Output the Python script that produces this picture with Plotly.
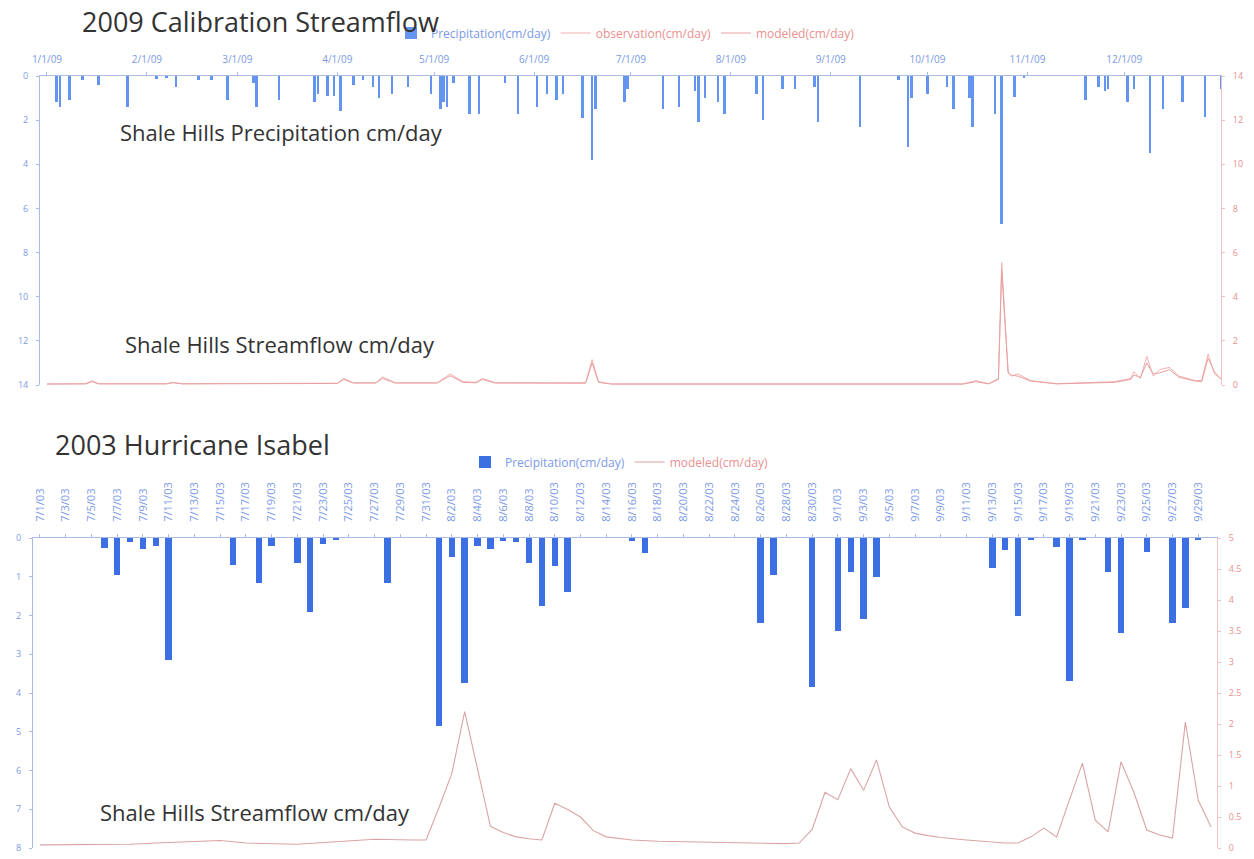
import plotly.graph_objects as go

W, H = 1254, 859

# ---------------- 2009 calibration data ----------------
precip09_dates = ["2009-01-04","2009-01-05","2009-01-08","2009-01-12","2009-01-17","2009-01-26",
    "2009-02-04","2009-02-07","2009-02-10","2009-02-17","2009-02-21","2009-02-26",
    "2009-03-06","2009-03-07","2009-03-14","2009-03-25","2009-03-26","2009-03-29","2009-03-31",
    "2009-04-02","2009-04-06","2009-04-09","2009-04-12","2009-04-14","2009-04-18","2009-04-23","2009-04-30",
    "2009-05-03","2009-05-04","2009-05-05","2009-05-07","2009-05-12","2009-05-15","2009-05-23","2009-05-27",
    "2009-06-02","2009-06-05","2009-06-08","2009-06-10","2009-06-16","2009-06-19","2009-06-20","2009-06-29","2009-06-30",
    "2009-07-11","2009-07-16","2009-07-21","2009-07-22","2009-07-24","2009-07-28","2009-07-30",
    "2009-08-09","2009-08-11","2009-08-17","2009-08-21","2009-08-27","2009-08-28",
    "2009-09-10","2009-09-22","2009-09-25","2009-09-26",
    "2009-10-01","2009-10-07","2009-10-09","2009-10-14","2009-10-15","2009-10-22","2009-10-24","2009-10-28","2009-10-31",
    "2009-11-19","2009-11-23","2009-11-25","2009-11-26",
    "2009-12-02","2009-12-04","2009-12-09","2009-12-13","2009-12-19","2009-12-26","2009-12-31"]
precip09_values = [1.2,1.4,1.1,0.2,0.4,1.4,
    0.15,0.1,0.5,0.2,0.2,1.1,
    0.3,1.4,1.1,1.2,0.8,0.9,0.9,
    1.6,0.4,0.2,0.5,1.0,0.8,0.5,0.8,
    1.5,1.2,1.4,0.3,1.7,1.7,0.3,1.7,
    1.4,0.8,1.1,0.8,1.9,3.8,1.5,1.2,0.6,
    1.5,1.4,0.7,2.1,1.0,1.2,1.7,
    0.8,2.0,0.6,0.6,0.5,2.1,
    2.3,0.2,3.2,1.0,
    0.8,0.5,1.5,1.0,2.3,1.7,6.7,0.95,0.1,
    1.1,0.5,0.7,0.6,
    1.2,0.6,3.5,1.5,1.2,1.85,0.6]

obs09_dates = ["2009-01-01","2009-01-13","2009-01-15","2009-01-17","2009-02-07","2009-02-09","2009-02-12",
    "2009-04-01","2009-04-03","2009-04-06","2009-04-13","2009-04-15","2009-04-19",
    "2009-05-02","2009-05-06","2009-05-10","2009-05-14","2009-05-16","2009-05-20",
    "2009-06-17","2009-06-19","2009-06-21","2009-06-25","2009-10-12","2009-10-16","2009-10-20",
    "2009-10-23","2009-10-24","2009-10-26","2009-10-27","2009-10-29","2009-11-02","2009-11-10",
    "2009-11-28","2009-12-03","2009-12-04","2009-12-06","2009-12-08","2009-12-10","2009-12-12","2009-12-15",
    "2009-12-18","2009-12-23","2009-12-25","2009-12-27","2009-12-29","2009-12-31"]
obs09_values = [0.05,0.06,0.2,0.06,0.06,0.12,0.06,
    0.08,0.3,0.1,0.1,0.37,0.1,
    0.1,0.5,0.15,0.12,0.3,0.1,
    0.1,1.15,0.15,0.05,0.05,0.2,0.06,
    0.3,5.55,0.6,0.4,0.5,0.2,0.06,
    0.15,0.3,0.6,0.3,1.3,0.4,0.7,0.8,
    0.4,0.2,0.2,1.4,0.5,0.3]
mod09_values = [0.04,0.05,0.15,0.05,0.05,0.1,0.05,
    0.07,0.25,0.09,0.09,0.3,0.09,
    0.09,0.42,0.12,0.1,0.25,0.09,
    0.08,1.0,0.12,0.04,0.04,0.15,0.05,
    0.25,5.2,0.55,0.45,0.4,0.18,0.05,
    0.12,0.25,0.45,0.35,1.0,0.5,0.55,0.7,
    0.35,0.18,0.15,1.2,0.6,0.25]

month_ticks09 = ["2009-%02d-01" % m for m in range(1, 13)]

# ---------------- 2003 Hurricane Isabel data ----------------
precip03_dates = ["2003-07-06","2003-07-07","2003-07-08","2003-07-09","2003-07-10","2003-07-11",
    "2003-07-16","2003-07-18","2003-07-19","2003-07-21","2003-07-22","2003-07-23","2003-07-24","2003-07-28",
    "2003-08-01","2003-08-02","2003-08-03","2003-08-04","2003-08-05","2003-08-06","2003-08-07",
    "2003-08-08","2003-08-09","2003-08-10","2003-08-11","2003-08-16","2003-08-17",
    "2003-08-26","2003-08-27","2003-08-30","2003-09-01","2003-09-02","2003-09-03","2003-09-04",
    "2003-09-13","2003-09-14","2003-09-15","2003-09-16","2003-09-18","2003-09-19","2003-09-20",
    "2003-09-22","2003-09-23","2003-09-25","2003-09-27","2003-09-28","2003-09-29"]
precip03_values = [0.25,0.95,0.1,0.28,0.2,3.15,
    0.7,1.15,0.2,0.65,1.9,0.15,0.05,1.15,
    4.85,0.5,3.75,0.2,0.28,0.07,0.1,
    0.65,1.75,0.72,1.4,0.07,0.38,
    2.2,0.95,3.85,2.4,0.87,2.1,1.0,
    0.77,0.3,2.0,0.05,0.22,3.7,0.05,
    0.88,2.45,0.35,2.2,1.8,0.05]

mod03_dates = ["2003-07-01","2003-07-04","2003-07-07","2003-07-08","2003-07-10","2003-07-13","2003-07-15",
    "2003-07-17","2003-07-21","2003-07-24","2003-07-27","2003-07-30","2003-07-31",
    "2003-08-01","2003-08-02","2003-08-03","2003-08-04","2003-08-05","2003-08-06","2003-08-07",
    "2003-08-08","2003-08-09","2003-08-10","2003-08-11","2003-08-12","2003-08-13","2003-08-14",
    "2003-08-15","2003-08-16","2003-08-18","2003-08-20","2003-08-22","2003-08-24","2003-08-26",
    "2003-08-28","2003-08-29","2003-08-30","2003-08-31","2003-09-01","2003-09-02","2003-09-03",
    "2003-09-04","2003-09-05","2003-09-06","2003-09-07","2003-09-08","2003-09-09","2003-09-11",
    "2003-09-13","2003-09-14","2003-09-15","2003-09-16","2003-09-17","2003-09-18","2003-09-19",
    "2003-09-20","2003-09-21","2003-09-22","2003-09-23","2003-09-24","2003-09-25","2003-09-26",
    "2003-09-27","2003-09-28","2003-09-29","2003-09-30"]
mod03_values = [0.05,0.05,0.05,0.06,0.08,0.1,0.12,
    0.08,0.06,0.1,0.14,0.13,0.13,
    0.65,1.2,2.2,1.25,0.35,0.25,0.18,
    0.15,0.13,0.72,0.62,0.5,0.28,0.18,
    0.15,0.13,0.11,0.1,0.09,0.08,0.07,
    0.07,0.08,0.3,0.9,0.78,1.28,0.93,
    1.42,0.66,0.34,0.24,0.2,0.17,0.13,
    0.1,0.08,0.08,0.18,0.32,0.18,0.78,
    1.37,0.45,0.26,1.39,0.9,0.29,0.21,
    0.16,2.03,0.77,0.34]

day_ticks03 = ["2003-07-%02d" % d for d in range(1, 32, 2)] + \
              ["2003-08-%02d" % d for d in range(2, 32, 2)] + \
              ["2003-09-%02d" % d for d in range(1, 30, 2)]

# ---------------- colours ----------------
BLUE_BAR_TOP = "#6394f0"
BLUE_BAR_BOT = "#3b6fe2"
BLUE_TXT = "#7b9ae6"
PINK_OBS = "#f3b0b0"
PINK_MOD = "#e9a0a0"
PINK_TXT = "#e99090"
DAY_MS = 86400000
FONT = "Open Sans"

fig = go.Figure()

fig.add_trace(go.Bar(x=precip09_dates, y=precip09_values, width=0.75 * DAY_MS,
                     marker=dict(color=BLUE_BAR_TOP, line=dict(width=0)),
                     name="<span style='color:%s'>Precipitation(cm/day)</span>" % BLUE_TXT,
                     xaxis="x", yaxis="y", legend="legend"))
fig.add_trace(go.Scatter(x=obs09_dates, y=obs09_values, mode="lines",
                         line=dict(color=PINK_OBS, width=1),
                         name="<span style='color:%s'>observation(cm/day)</span>" % PINK_TXT,
                         xaxis="x", yaxis="y2", legend="legend"))
fig.add_trace(go.Scatter(x=obs09_dates, y=mod09_values, mode="lines",
                         line=dict(color=PINK_MOD, width=1),
                         name="<span style='color:%s'>modeled(cm/day)</span>" % PINK_TXT,
                         xaxis="x", yaxis="y2", legend="legend"))

fig.add_trace(go.Bar(x=precip03_dates, y=precip03_values, width=0.5 * DAY_MS,
                     marker=dict(color=BLUE_BAR_BOT, line=dict(width=0)),
                     name="<span style='color:%s'>Precipitation(cm/day)</span>" % BLUE_TXT,
                     xaxis="x2", yaxis="y3", legend="legend2"))
fig.add_trace(go.Scatter(x=mod03_dates, y=mod03_values, mode="lines",
                         line=dict(color="#dba4a4", width=1.1),
                         name="<span style='color:%s'>modeled(cm/day)</span>" % PINK_TXT,
                         xaxis="x2", yaxis="y4", legend="legend2"))

def px(x):
    return x / W

def py(y):
    return 1 - y / H

tickfont_b = dict(size=9, color=BLUE_TXT, family=FONT)
tickfont_p = dict(size=9, color=PINK_TXT, family=FONT)

fig.update_layout(
    width=W, height=H, autosize=False,
    margin=dict(l=0, r=0, t=0, b=0),
    paper_bgcolor="white", plot_bgcolor="white",
    showlegend=True, bargap=0,
    font=dict(family=FONT),
    xaxis=dict(domain=[px(40), px(1221)], anchor="y", side="top", type="date",
               range=["2008-12-29 20:00", "2009-12-31 00:00"],
               tickvals=month_ticks09, tickformat="%-m/%-d/%y",
               tickfont=dict(size=10, color=BLUE_TXT, family=FONT), ticklabelstandoff=5,
               showgrid=False, zeroline=False, showline=True, linecolor="#a9bbe8",
               ticks="outside", ticklen=3, tickcolor="#a9bbe8", automargin=False),
    yaxis=dict(domain=[py(385), py(76)], anchor="x", range=[14, 0], dtick=2,
               tickfont=tickfont_b, showgrid=False, zeroline=False, showline=True,
               linecolor="#a9bbe8", ticks="outside", ticklen=3, tickcolor="#a9bbe8",
               ticklabelstandoff=6, automargin=False),
    yaxis2=dict(overlaying="y", anchor="x", side="right", range=[0, 14], dtick=2,
                tickfont=tickfont_p, showgrid=False, zeroline=False, showline=True,
                linecolor="#f1c0c0", ticks="outside", ticklen=3, tickcolor="#f1c0c0",
                ticklabelstandoff=6, automargin=False),
    xaxis2=dict(domain=[px(33), px(1217)], anchor="y3", side="top", type="date",
                range=["2003-06-30 11:00", "2003-09-30 11:00"],
                tickvals=day_ticks03, tickformat="%-m/%-d/%y", tickangle=-90,
                tickfont=dict(size=11, color=BLUE_TXT, family=FONT), ticklabelstandoff=10,
                showgrid=False, zeroline=False, showline=True, linecolor="#a9bbe8",
                ticks="outside", ticklen=3, tickcolor="#a9bbe8", automargin=False),
    yaxis3=dict(domain=[py(848), py(538)], anchor="x2", range=[8, 0], dtick=1,
                tickfont=tickfont_b, showgrid=False, zeroline=False, showline=True,
                linecolor="#a9bbe8", ticks="outside", ticklen=3, tickcolor="#a9bbe8",
                ticklabelstandoff=6, automargin=False),
    yaxis4=dict(overlaying="y3", anchor="x2", side="right", range=[0, 5], dtick=0.5,
                tickfont=tickfont_p, showgrid=False, zeroline=False, showline=True,
                linecolor="#f1c0c0", ticks="outside", ticklen=3, tickcolor="#f1c0c0",
                ticklabelstandoff=6, automargin=False),
    legend=dict(orientation="h", x=px(391), y=py(33), xanchor="left", yanchor="middle",
                font=dict(size=12, family=FONT), bgcolor="rgba(0,0,0,0)",
                itemwidth=30, tracegroupgap=0),
    legend2=dict(orientation="h", x=px(465), y=py(462), xanchor="left", yanchor="middle",
                 font=dict(size=12, family=FONT), bgcolor="rgba(0,0,0,0)",
                 itemwidth=30, tracegroupgap=0),
)

ann_font_big = dict(family=FONT, size=27, color="#333333")
ann_font_mid = dict(family=FONT, size=22, color="#333333")
fig.add_annotation(text="2009 Calibration Streamflow", xref="paper", yref="paper",
                   x=px(80), y=py(22), xanchor="left", yanchor="middle", showarrow=False,
                   font=ann_font_big)
fig.add_annotation(text="2003 Hurricane Isabel", xref="paper", yref="paper",
                   x=px(53), y=py(445), xanchor="left", yanchor="middle", showarrow=False,
                   font=ann_font_big)
fig.add_annotation(text="Shale Hills Precipitation cm/day", xref="paper", yref="paper",
                   x=px(118), y=py(132), xanchor="left", yanchor="middle", showarrow=False,
                   font=ann_font_mid)
fig.add_annotation(text="Shale Hills Streamflow cm/day", xref="paper", yref="paper",
                   x=px(123), y=py(344), xanchor="left", yanchor="middle", showarrow=False,
                   font=ann_font_mid)
fig.add_annotation(text="Shale Hills Streamflow cm/day", xref="paper", yref="paper",
                   x=px(98), y=py(812), xanchor="left", yanchor="middle", showarrow=False,
                   font=ann_font_mid)

fig.write_html("out.html", config={"displayModeBar": False},
               post_script="document.body.style.margin='0';")
